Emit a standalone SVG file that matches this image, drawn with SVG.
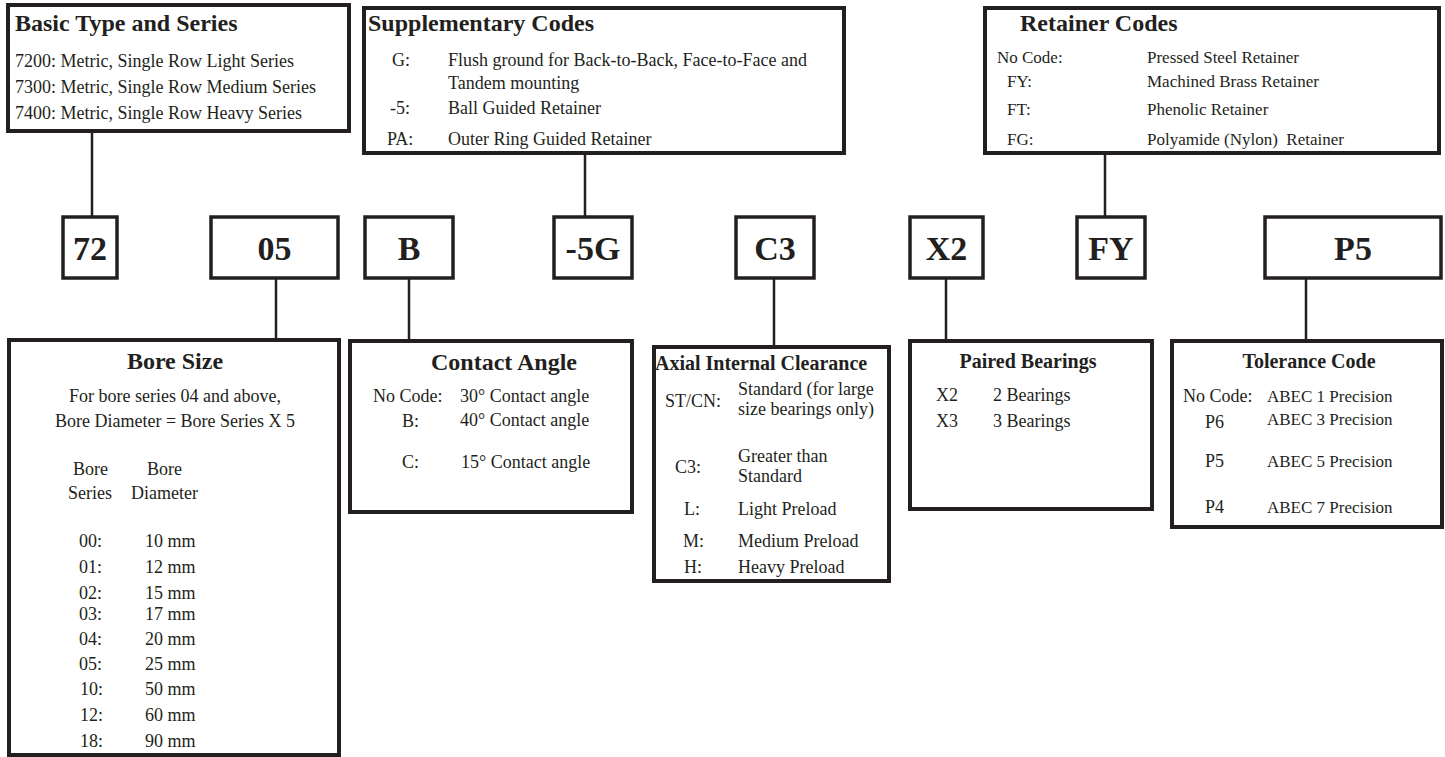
<svg xmlns="http://www.w3.org/2000/svg" width="1445" height="757" viewBox="0 0 1445 757">
<style>
text{font-family:"Liberation Serif","Times New Roman",serif;fill:#231f20}
.box{fill:#fff;stroke:#231f20;stroke-width:4}
.cbox{fill:#fff;stroke:#231f20;stroke-width:3.5}
.t24{font-size:24px;font-weight:bold}
.t20{font-size:20px;font-weight:bold}
.b18{font-size:18px}
.b17{font-size:17px}
.code{font-size:34px;font-weight:bold;text-anchor:middle}
.mid{text-anchor:middle}
.conn line{stroke:#231f20;stroke-width:2.5}
</style>
<rect width="1445" height="757" fill="#fff"/>
<g id="connectors" class="conn">
<line x1="92" y1="133" x2="92" y2="216"/>
<line x1="585" y1="155" x2="585" y2="216"/>
<line x1="1105" y1="155" x2="1105" y2="216"/>
<line x1="276" y1="279" x2="276" y2="339"/>
<line x1="409" y1="279" x2="409" y2="340"/>
<line x1="774" y1="279" x2="774" y2="346"/>
<line x1="946" y1="279" x2="946" y2="340"/>
<line x1="1306" y1="279" x2="1306" y2="340"/>
</g>
<g id="basic-type">
<rect class="box" x="8" y="5" width="341" height="126"/>
<text class="t24" x="15" y="31">Basic Type and Series</text>
<text class="b18" x="15" y="67">7200: Metric, Single Row Light Series</text>
<text class="b18" x="15" y="93">7300: Metric, Single Row Medium Series</text>
<text class="b18" x="15" y="119">7400: Metric, Single Row Heavy Series</text>
</g>
<g id="supplementary">
<rect class="box" x="364" y="8" width="480" height="145"/>
<text class="t24" x="368" y="31">Supplementary Codes</text>
<text class="b18" x="392" y="66">G:</text>
<text class="b18" x="448" y="66">Flush ground for Back-to-Back, Face-to-Face and</text>
<text class="b18" x="448" y="89">Tandem mounting</text>
<text class="b18" x="390" y="114">-5:</text>
<text class="b18" x="448" y="114">Ball Guided Retainer</text>
<text class="b18" x="387" y="145">PA:</text>
<text class="b18" x="448" y="145">Outer Ring Guided Retainer</text>
</g>
<g id="retainer">
<rect class="box" x="985" y="8" width="454" height="145"/>
<text class="t24" x="1020" y="31">Retainer Codes</text>
<text class="b17" x="997" y="63">No Code:</text>
<text class="b17" x="1147" y="63">Pressed Steel Retainer</text>
<text class="b17" x="1007" y="87">FY:</text>
<text class="b17" x="1147" y="87">Machined Brass Retainer</text>
<text class="b17" x="1007" y="115">FT:</text>
<text class="b17" x="1147" y="115">Phenolic Retainer</text>
<text class="b17" x="1007" y="145">FG:</text>
<text class="b17" x="1147" y="145" xml:space="preserve">Polyamide (Nylon)  Retainer</text>
</g>
<g id="code-72"><rect class="cbox" x="63" y="217" width="54" height="61"/><text class="code" x="90" y="260">72</text></g>
<g id="code-05"><rect class="cbox" x="211" y="217" width="127" height="61"/><text class="code" x="274.5" y="260">05</text></g>
<g id="code-B"><rect class="cbox" x="365" y="217" width="88" height="61"/><text class="code" x="409" y="260">B</text></g>
<g id="code-5G"><rect class="cbox" x="554" y="217" width="78" height="61"/><text class="code" x="593" y="260">-5G</text></g>
<g id="code-C3"><rect class="cbox" x="736" y="217" width="78" height="61"/><text class="code" x="775" y="260">C3</text></g>
<g id="code-X2"><rect class="cbox" x="910" y="217" width="73" height="61"/><text class="code" x="946.5" y="260">X2</text></g>
<g id="code-FY"><rect class="cbox" x="1077" y="217" width="68" height="61"/><text class="code" x="1111" y="260">FY</text></g>
<g id="code-P5"><rect class="cbox" x="1265" y="217" width="176" height="61"/><text class="code" x="1353" y="260">P5</text></g>
<g id="bore-size">
<rect class="box" x="9" y="340" width="330" height="415"/>
<text class="t24 mid" x="175" y="369">Bore Size</text>
<text class="b18 mid" x="175" y="402">For bore series 04 and above,</text>
<text class="b18 mid" x="175" y="427">Bore Diameter = Bore Series X 5</text>
<text class="b18" x="73" y="475">Bore</text>
<text class="b18" x="147" y="475">Bore</text>
<text class="b18" x="68" y="499">Series</text>
<text class="b18" x="131" y="499">Diameter</text>
<g class="b18">
<text x="79" y="547">00:</text><text x="145" y="547">10 mm</text>
<text x="79" y="573">01:</text><text x="145" y="573">12 mm</text>
<text x="79" y="599">02:</text><text x="145" y="599">15 mm</text>
<text x="79" y="620">03:</text><text x="145" y="620">17 mm</text>
<text x="79" y="645">04:</text><text x="145" y="645">20 mm</text>
<text x="79" y="670">05:</text><text x="145" y="670">25 mm</text>
<text x="80" y="695">10:</text><text x="145" y="695">50 mm</text>
<text x="80" y="721">12:</text><text x="145" y="721">60 mm</text>
<text x="80" y="747">18:</text><text x="145" y="747">90 mm</text>
</g>
</g>
<g id="contact-angle">
<rect class="box" x="350" y="341" width="282" height="171"/>
<text class="t24 mid" x="504" y="370">Contact Angle</text>
<text class="b18" x="373" y="402">No Code:</text>
<text class="b18" x="460" y="402">30° Contact angle</text>
<text class="b18" x="402" y="427">B:</text>
<text class="b18" x="460" y="426">40° Contact angle</text>
<text class="b18" x="402" y="468">C:</text>
<text class="b18" x="461" y="468">15° Contact angle</text>
</g>
<g id="axial-clearance">
<rect class="box" x="654" y="347" width="235" height="234"/>
<text class="t20" x="655" y="370">Axial Internal Clearance</text>
<text class="b18" x="665" y="407">ST/CN:</text>
<text class="b18" x="738" y="395">Standard (for large</text>
<text class="b18" x="738" y="415">size bearings only)</text>
<text class="b18" x="675" y="473">C3:</text>
<text class="b18" x="738" y="462">Greater than</text>
<text class="b18" x="738" y="482">Standard</text>
<text class="b18" x="684" y="515">L:</text>
<text class="b18" x="738" y="515">Light Preload</text>
<text class="b18" x="683" y="547">M:</text>
<text class="b18" x="738" y="547">Medium Preload</text>
<text class="b18" x="684" y="573">H:</text>
<text class="b18" x="738" y="573">Heavy Preload</text>
</g>
<g id="paired-bearings">
<rect class="box" x="910" y="341" width="242" height="168"/>
<text class="t20 mid" x="1028" y="368">Paired Bearings</text>
<text class="b18" x="936" y="401">X2</text>
<text class="b18" x="993" y="401">2 Bearings</text>
<text class="b18" x="936" y="427">X3</text>
<text class="b18" x="993" y="427">3 Bearings</text>
</g>
<g id="tolerance-code">
<rect class="box" x="1172" y="341" width="270" height="186"/>
<text class="t20 mid" x="1309" y="368">Tolerance Code</text>
<text class="b18" x="1183" y="402">No Code:</text>
<text class="b17" x="1267" y="402">ABEC 1 Precision</text>
<text class="b18" x="1205" y="428">P6</text>
<text class="b17" x="1267" y="425">ABEC 3 Precision</text>
<text class="b18" x="1205" y="467">P5</text>
<text class="b17" x="1267" y="467">ABEC 5 Precision</text>
<text class="b18" x="1205" y="513">P4</text>
<text class="b17" x="1267" y="513">ABEC 7 Precision</text>
</g>
</svg>
